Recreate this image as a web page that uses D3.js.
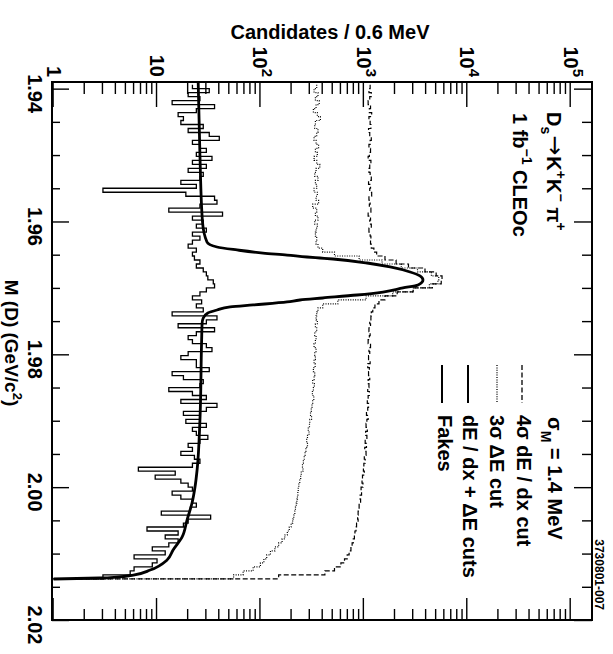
<!DOCTYPE html>
<html>
<head>
<meta charset="utf-8">
<script src="https://cdn.jsdelivr.net/npm/d3@7"></script>
<style>
  body { margin: 0; background: #fff; }
  svg { display: block; }
  text { font-family: "Liberation Sans", Arial, Helvetica, sans-serif; font-weight: bold; fill: #000; }
</style>
</head>
<body>
<svg id="chart" width="613" height="654"></svg>
<script>
// D_s -> K+ K- pi+ candidate mass spectra, 0.6 MeV bins starting at binStart
const binStart = 1.9394;
const binWidth = 0.0006;

// 4 sigma dE/dx cut only
const dedxCut = [
  1150, 1120, 1180, 1140, 1100, 1160, 1130, 1190, 1120, 1150,
  1170, 1110, 1140, 1180, 1150, 1120, 1160, 1130, 1100, 1170,
  1140, 1120, 1150, 1180, 1110, 1160, 1140, 1190, 1120, 1150,
  1130, 1170, 1100, 1160, 1140, 1180, 1120, 1150, 1170, 1160,
  1180, 1250, 1330, 1600, 2050, 2700, 3900, 5000, 5700, 5600,
  4600, 3000, 2100, 1600, 1400, 1280, 1220, 1180,
  1170, 1140, 1160, 1120, 1150, 1130, 1100, 1160, 1120, 1140,
  1110, 1150, 1090, 1130, 1110, 1140, 1100, 1120, 1090, 1130,
  1100, 1080, 1110,
  1090, 1060, 1100, 1070, 1050, 1080, 1040, 1070, 1030, 1060,
  1020, 1050, 1010, 1030, 1000,
  990, 1010, 970, 960, 980, 940, 950, 920, 930, 900,
  900, 880, 870, 880, 850, 840, 820,
  810, 790, 770, 750, 720,
  690, 650, 600, 520,
  420, 150
];

// 3 sigma Delta E cut only
const deltaECut = [
  350, 330, 360, 340, 370, 345, 325, 355, 380, 340,
  335, 360, 350, 330, 345, 365, 340, 355, 330, 350,
  375, 345, 335, 360, 340, 350, 330, 355, 345, 365,
  320, 350, 340, 360, 335, 355, 345, 340, 350, 345,
  360, 400, 520, 900, 1500, 2300, 3300, 4500, 5300, 5200,
  4300, 3000, 1900, 1050, 560, 400, 360,
  350, 345, 355, 340, 350, 335, 345, 340, 330, 345,
  335, 340, 330, 338, 325, 335, 330, 320, 332, 325,
  318, 328, 320, 315,
  310, 305, 312, 300, 298, 290, 295, 285, 280, 285, 275, 270,
  265, 260, 255, 258, 248, 245, 240, 235, 232, 230, 228, 225,
  222, 218, 215, 210, 205, 198, 190, 182, 172, 162,
  150, 138, 125, 115, 108, 100, 85, 68, 55
];

// Fake candidates
const fakes = [
  22, 32, 20, 26, 14, 36, 24, 16, 18,
  17, 28, 20, 32, 40, 22, 26, 30, 24, 34,
  22, 30, 20, 28, 26, 17, 24, 3, 19, 36,
  38, 26, 13, 43, 22, 28, 24, 30, 22, 26,
  22, 20, 24, 22, 23, 26, 24, 28, 30, 31,
  35, 36, 30, 26, 22, 27, 24, 28, 14, 38,
  30, 16, 36, 24, 20,
  22, 30, 34, 20, 17, 24, 24, 32, 14, 18,
  28, 26, 13, 22, 30, 17, 38, 30, 18, 26,
  19, 30, 22, 24, 31, 26, 20, 22, 17, 23,
  26, 22, 6.6, 15, 9.6, 17, 20,
  22, 14, 17, 22, 24, 21, 11, 33, 20, 18,
  8, 16, 12, 16, 13, 9, 12, 6, 10, 9,
  6, 5.5, 3
];

// dE/dx + Delta E cuts: fitted line shape
const fitMass = [
  1.9390, 1.9500, 1.9600, 1.96309, 1.96384, 1.96429, 1.96475, 1.96505,
  1.96535, 1.9655, 1.96565, 1.96625, 1.96685, 1.9676, 1.9682, 1.9688,
  1.96956, 1.97001, 1.97062, 1.97107, 1.97152, 1.97182, 1.97212, 1.97257,
  1.97287, 1.97333, 1.97378, 1.97453, 1.97528, 1.97784, 1.9899, 1.99742,
  1.99998, 2.00239, 2.00495, 2.0075, 2.00946, 2.01097, 2.01248, 2.01323,
  2.01353, 2.01368, 2.01383
];
const fitCounts = [
  25, 26, 27.5, 30.4, 38, 59.4, 106, 181,
  282, 377, 503, 1075, 1795, 2800, 3490, 3730,
  3340, 2390, 1530, 859, 400, 241, 181, 85,
  51, 38, 31, 28, 27.3, 27, 26, 24.4,
  23.3, 21.8, 19.5, 17.5, 14.3, 12.5, 8.6, 5.9,
  4.1, 2.8, 1
];

const massTicks = [1.94, 1.96, 1.98, 2.00, 2.02];
const massTickLabels = ["1.94", "1.96", "1.98", "2.00", "2.02"];
const massMinorTicks = [1.945, 1.95, 1.955, 1.965, 1.97, 1.975, 1.985, 1.99, 1.995, 2.005, 2.01, 2.015];
const countTicks = [1, 10, 100, 1000, 10000, 100000];
const countTickBases = ["1", "10", "10", "10", "10", "10"];
const countTickExps = ["", "", "2", "3", "4", "5"];

const legendLabels = ["4\u03c3 dE / dx cut", "3\u03c3 \u0394E cut", "dE / dx + \u0394E cuts", "Fakes"];

// ---- layout: the plot is drawn in its own frame and turned a quarter turn clockwise
const frame = { left: 52, top: 82, right: 592, bottom: 620 };
const W = frame.bottom - frame.top;   // mass direction
const H = frame.right - frame.left;   // counts direction

const svg = d3.select("#chart");
const g = svg.append("g").attr("transform", `translate(${frame.right},${frame.top}) rotate(90)`);

const x = d3.scaleLinear().domain([1.939, 2.02]).range([0, W]);
const y = d3.scaleLog().domain([Math.pow(10, -0.0155), Math.pow(10, 5.206)]).range([H, 0]).clamp(true);
const floorCount = y.domain()[0];

g.append("clipPath").attr("id", "plotClip")
  .append("rect").attr("x", 0).attr("y", 0).attr("width", W).attr("height", H);

const plot = g.append("g").attr("clip-path", "url(#plotClip)");

function histPoints(vals) {
  const pts = vals.map((c, i) => [binStart + i * binWidth, c]);
  const end = binStart + vals.length * binWidth;
  pts.push([end, vals[vals.length - 1]]);
  pts.push([end, floorCount]);
  return pts;
}
const stepLine = d3.line().x(d => x(d[0])).y(d => y(d[1])).curve(d3.curveStepAfter);

const styles = [
  { dash: "5,2.5", width: 1.2 },
  { dash: "1,1.4", width: 1.2 },
  { dash: null, width: 2.8 },
  { dash: null, width: 1.3 }
];

plot.append("path").attr("d", stepLine(histPoints(dedxCut)))
  .attr("fill", "none").attr("stroke", "#000").attr("stroke-width", styles[0].width).attr("stroke-dasharray", styles[0].dash);
plot.append("path").attr("d", stepLine(histPoints(deltaECut)))
  .attr("fill", "none").attr("stroke", "#000").attr("stroke-width", styles[1].width).attr("stroke-dasharray", styles[1].dash);
plot.append("path").attr("d", stepLine(histPoints(fakes)))
  .attr("fill", "none").attr("stroke", "#000").attr("stroke-width", styles[3].width);

const fitLine = d3.line().x(d => x(d[0])).y(d => y(d[1])).curve(d3.curveMonotoneX);
plot.append("path").attr("d", fitLine(fitMass.map((m, i) => [m, fitCounts[i]])))
  .attr("fill", "none").attr("stroke", "#000").attr("stroke-width", styles[2].width).attr("stroke-linejoin", "round");

// ---- ticks on all four sides, pointing inward
const minorCounts = [];
for (let e = 0; e <= 5; e++) for (let k = 2; k <= 9; k++) {
  const v = k * Math.pow(10, e);
  if (v < y.domain()[1]) minorCounts.push(v);
}
function tickAxis(axis, transform) {
  const a = g.append("g").attr("transform", transform).call(axis);
  a.select(".domain").remove();
  a.selectAll("text").remove();
  a.selectAll("line").attr("stroke", "#000").attr("stroke-width", 1.4);
}
tickAxis(d3.axisLeft(y).tickValues(countTicks).tickSize(-25), "translate(0,0)");
tickAxis(d3.axisLeft(y).tickValues(minorCounts).tickSize(-12), "translate(0,0)");
tickAxis(d3.axisRight(y).tickValues(countTicks).tickSize(-22), `translate(${W},0)`);
tickAxis(d3.axisRight(y).tickValues(minorCounts).tickSize(-11), `translate(${W},0)`);
tickAxis(d3.axisBottom(x).tickValues(massTicks).tickSize(-17), `translate(0,${H})`);
tickAxis(d3.axisBottom(x).tickValues(massMinorTicks).tickSize(-8), `translate(0,${H})`);
tickAxis(d3.axisTop(x).tickValues(massTicks).tickSize(-18), "translate(0,0)");
tickAxis(d3.axisTop(x).tickValues(massMinorTicks).tickSize(-10), "translate(0,0)");

// frame
g.append("rect").attr("x", 0).attr("y", 0).attr("width", W).attr("height", H)
  .attr("fill", "none").attr("stroke", "#000").attr("stroke-width", 2);

// ---- mass tick labels
massTicks.forEach((m, i) => {
  g.append("text").attr("x", x(m) + 5).attr("y", H + 24).attr("font-size", 20).attr("text-anchor", "middle")
    .text(massTickLabels[i]);
});

// ---- count tick labels
countTicks.forEach((c, i) => {
  const t = g.append("text").attr("x", -5).attr("y", y(c) + 7).attr("font-size", 20).attr("text-anchor", "end");
  t.append("tspan").text(countTickBases[i]);
  if (countTickExps[i]) t.append("tspan").attr("font-size", 15).attr("dy", -9).text(countTickExps[i]);
});

// axis titles
g.append("text").attr("x", W / 2 - 8).attr("y", H + 47).attr("font-size", 19).attr("text-anchor", "middle")
  .call(t => {
    t.append("tspan").text("M (D) (GeV/c");
    t.append("tspan").attr("font-size", 13).attr("dy", -8).text("2");
    t.append("tspan").attr("dy", 8).text(")");
  });
svg.append("text").attr("x", 330).attr("y", 39).attr("font-size", 20).attr("text-anchor", "middle")
  .text("Candidates / 0.6 MeV");

// ---- decay label and luminosity
g.append("text").attr("x", 30).attr("y", 45).attr("font-size", 20).call(t => {
  t.append("tspan").text("D");
  t.append("tspan").attr("font-size", 14).attr("dy", 6).text("s");
  t.append("tspan").attr("dy", -6).attr("dx", 1).attr("font-family", "DejaVu Sans").attr("font-size", 24).attr("font-weight", "normal").text("\u2192");
  t.append("tspan").attr("dx", 1).text("K");
  t.append("tspan").attr("font-size", 14).attr("dy", -9).text("+");
  t.append("tspan").attr("dy", 9).text("K");
  t.append("tspan").attr("font-size", 14).attr("dy", -9).text("\u2212");
  t.append("tspan").attr("dy", 9).text(" \u03c0");
  t.append("tspan").attr("font-size", 14).attr("dy", -9).text("+");
});
g.append("text").attr("x", 31).attr("y", 79).attr("font-size", 20).call(t => {
  t.append("tspan").text("1 fb");
  t.append("tspan").attr("font-size", 14).attr("dy", -9).text("\u22121");
  t.append("tspan").attr("dy", 9).text(" CLEOc");
});

// ---- legend
g.append("text").attr("x", 335).attr("y", 44).attr("font-size", 20).call(t => {
  t.append("tspan").text("\u03c3");
  t.append("tspan").attr("font-size", 14).attr("dy", 7).text("M");
  t.append("tspan").attr("dy", -7).text(" = 1.4 MeV");
});
const legendBase = [75, 102, 129, 154];
const legendLineV = [70, 95, 124, 150];
legendLabels.forEach((lab, i) => {
  g.append("line").attr("x1", 283).attr("x2", 321).attr("y1", legendLineV[i]).attr("y2", legendLineV[i])
    .attr("stroke", "#000").attr("stroke-width", i === 2 || i === 3 ? 2 : 1.3)
    .attr("stroke-dasharray", styles[i].dash);
  g.append("text").attr("x", 333).attr("y", legendBase[i]).attr("font-size", 20).text(lab);
});

// figure number
g.append("text").attr("x", 528).attr("y", -3).attr("font-size", 12).attr("font-weight", "normal")
  .attr("text-anchor", "end").text("3730801-007");
</script>
</body>
</html>
